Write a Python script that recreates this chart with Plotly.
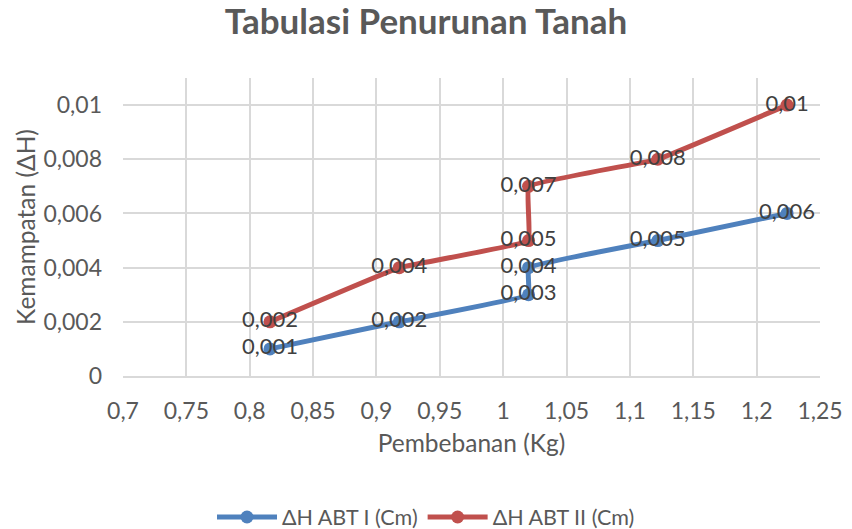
import plotly.graph_objects as go

x_vals = [0.816, 0.918, 1.02, 1.02, 1.122, 1.224]
abt1 = [0.001, 0.002, 0.003, 0.004, 0.005, 0.006]
abt2 = [0.002, 0.004, 0.005, 0.007, 0.008, 0.01]
x_ticks = [0.7, 0.75, 0.8, 0.85, 0.9, 0.95, 1.0, 1.05, 1.1, 1.15, 1.2, 1.25]
x_tick_labels = ["0,7", "0,75", "0,8", "0,85", "0,9", "0,95", "1", "1,05", "1,1", "1,15", "1,2", "1,25"]
y_ticks = [0, 0.002, 0.004, 0.006, 0.008, 0.01]
y_tick_labels = ["0", "0,002", "0,004", "0,006", "0,008", "0,01"]

FONT = "Lato"

def lbl(v):
    s = f"{v:.3f}".replace(".", ",")
    if s.endswith("0") and s != "0,000":
        s = s.rstrip("0")
    return s

fig = go.Figure()
for name, ys, col in [("ΔH ABT I (Cm)", abt1, "#4f81bd"), ("ΔH ABT II (Cm)", abt2, "#c0504d")]:
    fig.add_trace(go.Scatter(
        x=x_vals, y=ys, name=name, mode="lines+markers+text",
        line=dict(color=col, width=5, shape="spline", smoothing=0.2),
        marker=dict(color=col, size=13),
        text=[lbl(v) for v in ys], textposition="middle center",
        textfont=dict(family=FONT, size=22, color="#404040"),
        cliponaxis=False,
    ))

fig.update_layout(
    width=852, height=529,
    paper_bgcolor="white", plot_bgcolor="white",
    margin=dict(l=123, r=32, t=78, b=153, autoexpand=False),
    title=dict(text="<b>Tabulasi Penurunan Tanah</b>", x=0.5, xanchor="center",
               y=1 - 22 / 529, yanchor="middle", yref="container",
               font=dict(family=FONT, size=35, color="#595959")),
    font=dict(family=FONT, color="#595959"),
    showlegend=True,
    legend=dict(orientation="h", x=0.5, xanchor="center", xref="container",
                y=1 - 517 / 529, yanchor="middle", yref="container",
                font=dict(family=FONT, size=21.5, color="#595959"), itemwidth=60),
    xaxis=dict(range=[0.7, 1.25], tickvals=x_ticks, ticktext=x_tick_labels,
               showgrid=True, gridcolor="#d9d9d9", gridwidth=2, zeroline=False,
               showline=True, linecolor="#d9d9d9", linewidth=2, automargin=False,
               tickfont=dict(family=FONT, size=23, color="#595959"), ticks="",
               ticklabelstandoff=13,
               title=dict(text="Pembebanan (Kg)", font=dict(family=FONT, size=24.5, color="#595959"), standoff=12)),
    yaxis=dict(range=[0, 0.011], tickvals=y_ticks, ticktext=y_tick_labels,
               showgrid=True, gridcolor="#d9d9d9", gridwidth=2, zeroline=False,
               showline=False, automargin=False,
               tickfont=dict(family=FONT, size=23, color="#595959"), ticks="",
               ticklabelstandoff=20,
               title=dict(text="Kemampatan (ΔH)", font=dict(family=FONT, size=24.5, color="#595959"), standoff=0)),
)

fig.write_html("out.html", config={"displayModeBar": False},
               post_script="document.body.style.margin='0';")
